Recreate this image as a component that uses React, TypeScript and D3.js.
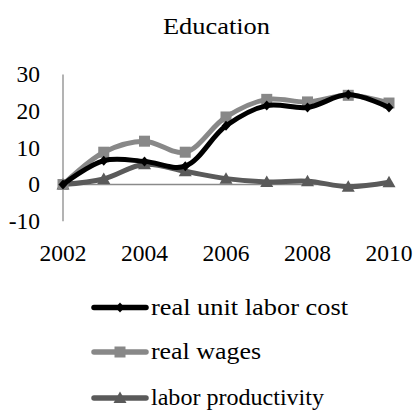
import React from "react";
import * as d3 from "d3";

const years = [2002, 2003, 2004, 2005, 2006, 2007, 2008, 2009, 2010];
const realUnitLaborCost = [0, 6.5, 6.3, 5.0, 16.0, 21.5, 21.0, 24.5, 21.0];
const realWages = [0, 8.8, 11.8, 8.8, 18.4, 23.2, 22.5, 24.3, 22.2];
const laborProductivity = [0, 1.5, 5.5, 3.6, 1.6, 0.7, 0.9, -0.6, 0.6];
const yTicks = [-10, 0, 10, 20, 30];
const xTicks = [2002, 2004, 2006, 2008, 2010];

const series = [
  { name: "real unit labor cost", values: realUnitLaborCost, color: "#000000", marker: "diamond", textWidth: 197 },
  { name: "real wages", values: realWages, color: "#888888", marker: "square", textWidth: 110 },
  { name: "labor productivity", values: laborProductivity, color: "#5a5a5a", marker: "triangle", textWidth: 173 },
];

const W = 416;
const H = 412;
const FONT = "'Liberation Serif', 'Times New Roman', serif";

function Marker({ kind, x, y, color }: { kind: string; x: number; y: number; color: string }) {
  if (kind === "square") {
    return <rect x={x - 5.5} y={y - 5.5} width={11} height={11} fill={color} />;
  }
  if (kind === "triangle") {
    return <path d={`M${x},${y - 6.5} L${x + 6.5},${y + 5} L${x - 6.5},${y + 5} Z`} fill={color} />;
  }
  return <path d={`M${x},${y - 5} L${x + 4.5},${y} L${x},${y + 5} L${x - 4.5},${y} Z`} fill={color} />;
}

export default function App() {
  const x = d3.scaleLinear().domain([2002, 2010]).range([63, 389]);
  const y = d3.scaleLinear().domain([-10, 30]).range([221.2, 74.4]);
  const line = d3
    .line<number>()
    .x((_, i) => x(years[i]))
    .y((v) => y(v))
    .curve(d3.curveCatmullRom.alpha(0.5));

  const legendY = [307.5, 352, 398];

  return (
    <svg
      width={W}
      height={H}
      style={{ position: "absolute", left: 0, top: 0, display: "block" }}
      fontFamily={FONT}
    >
      <rect x={0} y={0} width={W} height={H} fill="#ffffff" />
      <text x={216.5} y={34.3} textAnchor="middle" fontSize={23.5} textLength={107} lengthAdjust="spacingAndGlyphs">
        Education
      </text>

      {/* axes */}
      <line x1={x(2002)} x2={x(2002)} y1={y(30)} y2={y(-10)} stroke="#8a8a8a" strokeWidth={1.3} />
      <line x1={x(2002)} x2={x(2010) + 2} y1={y(0)} y2={y(0)} stroke="#8a8a8a" strokeWidth={1.3} />

      {yTicks.map((t) => (
        <text key={t} x={40} y={y(t)} dy="0.34em" textAnchor="end" fontSize={23.5}>
          {t}
        </text>
      ))}
      {xTicks.map((t) => (
        <text key={t} x={x(t)} y={260.7} textAnchor="middle" fontSize={23.5}>
          {t}
        </text>
      ))}

      {/* series, drawn bottom to top */}
      {[...series].reverse().map((s) => (
        <g key={s.name}>
          <path
            d={line(s.values) ?? ""}
            fill="none"
            stroke={s.color}
            strokeWidth={5}
            strokeLinejoin="round"
            strokeLinecap="round"
          />
          {s.values.map((v, i) => (
            <Marker key={i} kind={s.marker} x={x(years[i])} y={y(v)} color={s.color} />
          ))}
        </g>
      ))}

      {/* legend */}
      {series.map((s, i) => (
        <g key={s.name}>
          <line
            x1={94}
            x2={146}
            y1={legendY[i]}
            y2={legendY[i]}
            stroke={s.color}
            strokeWidth={5.5}
            strokeLinecap="round"
          />
          <Marker kind={s.marker} x={120} y={legendY[i]} color={s.color} />
          <text
            x={151}
            y={legendY[i]}
            dy="0.3em"
            fontSize={23.5}
            textLength={s.textWidth}
            lengthAdjust="spacingAndGlyphs"
          >
            {s.name}
          </text>
        </g>
      ))}
    </svg>
  );
}
